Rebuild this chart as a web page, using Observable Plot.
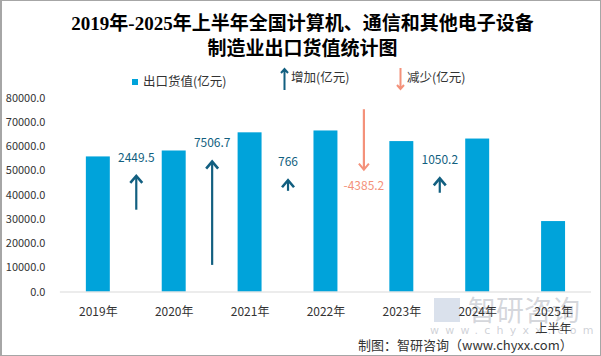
<!DOCTYPE html>
<html><head><meta charset="utf-8">
<script src="https://cdn.jsdelivr.net/npm/d3@7"></script>
<script src="https://cdn.jsdelivr.net/npm/@observablehq/plot@0.6"></script>
<style>
html,body{margin:0;padding:0;background:#fff;}
#wrap{position:relative;width:601px;height:356px;box-sizing:border-box;border:1px solid #a6a6a6;border-left-width:2px;overflow:hidden;font-family:"Noto Sans CJK SC","Noto Sans",sans-serif;color:#333;}
#title{position:absolute;left:0;top:10px;width:601px;text-align:center;font-family:"Liberation Serif","Noto Sans CJK SC",serif;font-weight:bold;font-size:19px;line-height:25px;color:#000;}
.leg{position:absolute;top:72px;font-size:12.5px;line-height:16px;color:#333;white-space:nowrap;}
#caption{position:absolute;left:356px;top:335px;font-size:13px;line-height:18px;color:#333;white-space:nowrap;}
#wm1{position:absolute;left:466px;top:293px;font-size:28px;line-height:30px;color:rgba(160,165,175,0.45);white-space:nowrap;}
#wmlogo{position:absolute;left:432px;top:297px;width:26px;height:24px;background:rgba(150,170,200,0.35);}
#wm2{position:absolute;left:428px;top:323px;font-size:11px;letter-spacing:6.2px;line-height:14px;color:rgba(160,165,175,0.5);white-space:nowrap;font-family:"DejaVu Sans",sans-serif;}
#chart{position:absolute;left:-2px;top:-1px;}
#chart svg{background:transparent;}
</style></head>
<body><div id="wrap">
<div id="wmlogo"></div><div id="wm1">智研咨询</div><div id="wm2">www.chyxx.com</div>
<div id="chart"></div>
<div id="title">2019年-2025年上半年全国计算机、通信和其他电子设备<br>制造业出口货值统计图</div>
<div class="leg" style="left:130px;"><span style="display:inline-block;width:6px;height:6px;background:#00a3da;margin-right:5px;vertical-align:1px;"></span>出口货值(亿元)</div>
<div class="leg" style="left:278px;top:66px;"><svg width="9" height="24" style="vertical-align:middle;margin-right:2px;"><path d="M4.5,23 V2 M1,6 L4.5,2 L8,6" stroke="#125f80" stroke-width="2" fill="none"/></svg>增加(亿元)</div>
<div class="leg" style="left:394px;top:66px;"><svg width="9" height="24" style="vertical-align:middle;margin-right:2px;"><path d="M4.5,1 V22 M1,18 L4.5,22 L8,18" stroke="#f4917a" stroke-width="2" fill="none"/></svg>减少(亿元)</div>
<div id="caption">制图：智研咨询（www.chyxx.com）</div>
</div>
<script>
const years = ["2019年","2020年","2021年","2022年","2023年","2024年","2025年上半年"];
const yearLabels = ["2019年","2020年","2021年","2022年","2023年","2024年","2025年\n上半年"];
const exportValue = [55800, 58249.5, 65756.2, 66522.2, 62137.0, 63187.2, 29100];
const changes = [2449.5, 7506.7, 766, -4385.2, 1050.2];
const changeLabels = ["2449.5","7506.7","766","-4385.2","1050.2"];
const arrowStart = [34000, 11200, 41800, 75500, 41000];
const arrowRatio = 5.686;
const yTicks = [0,10000,20000,30000,40000,50000,60000,70000,80000];

const W = 601, H = 356, mL = 60, mR = 9;
const step = (W - mL - mR) / years.length;
const bars = years.map((y,i)=>({year:y, value:exportValue[i]}));
const arrows = changes.map((c,i)=>({
  year: years[i], change: c, label: changeLabels[i],
  start: arrowStart[i], end: arrowStart[i] + c*arrowRatio,
  up: c >= 0
}));
const up = arrows.filter(d=>d.up), down = arrows.filter(d=>!d.up);
const chevron = {draw(ctx){ ctx.moveTo(-6,7); ctx.lineTo(0,0); ctx.lineTo(6,7); }};
const chevronS = {draw(ctx){ ctx.moveTo(-5,6); ctx.lineTo(0,0); ctx.lineTo(5,6); }};
const UP = "#125f80", DOWN = "#f4917a";

const chart = Plot.plot({
  width: W, height: H,
  marginLeft: mL, marginRight: mR, marginTop: 98, marginBottom: 64,
  style: {background: "transparent", color: "#333", fontFamily: "'Noto Sans CJK SC','Noto Sans',sans-serif"},
  x: {type: "band", domain: years, paddingInner: 0.684, paddingOuter: 0.342, label: null},
  y: {domain: [0, 80000], label: null},
  marks: [
    Plot.axisY({ticks: yTicks, tickSize: 0, tickPadding: 15, tickFormat: d3.format(".1f"), fontSize: 11, label: null}),
    Plot.axisX({tickSize: 0, tickPadding: 12, fontSize: 12, lineHeight: 1.4, tickFormat: (d)=>yearLabels[years.indexOf(d)], label: null}),
    Plot.barY(bars, {x: "year", y: "value", fill: "#00a3da"}),
    Plot.ruleY([0], {stroke: "#d9d9d9", strokeWidth: 1}),
    Plot.link(arrows, {x1: "year", x2: "year", y1: "start", y2: "end", dx: step/2, stroke: d=>d.up?UP:DOWN, strokeWidth: 2.2}),
    Plot.dot(up, {x: "year", y: "end", dx: step/2, symbol: chevron, stroke: UP, strokeWidth: 2.6, fill: "none", r: 5}),
    Plot.dot(down, {x: "year", y: "end", dx: step/2, symbol: chevronS, rotate: 180, stroke: DOWN, strokeWidth: 2, fill: "none", r: 5}),
    Plot.text(up, {x: "year", y: "end", dx: step/2, dy: -18, text: "label", fill: UP, fontSize: 12}),
    Plot.text(down, {x: "year", y: "end", dx: step/2, dy: 17, text: "label", fill: DOWN, fontSize: 12})
  ]
});
document.getElementById("chart").appendChild(chart);
</script>
</body></html>
